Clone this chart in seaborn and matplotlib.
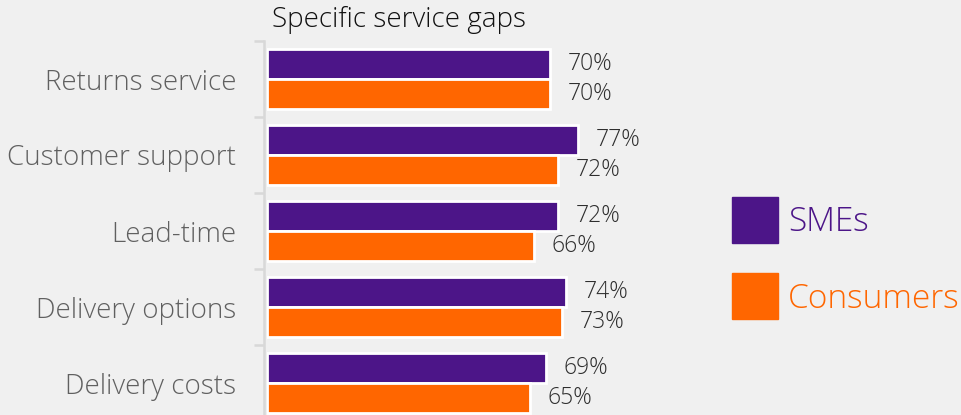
import pandas as pd
import matplotlib
matplotlib.use("Agg")
import matplotlib.pyplot as plt
import seaborn as sns
from matplotlib.lines import Line2D

categories = ["Returns service", "Customer support", "Lead-time", "Delivery options", "Delivery costs"]
smes = [70, 77, 72, 74, 69]
consumers = [70, 72, 66, 73, 65]
series = ["SMEs", "Consumers"]
colors = ["#4C1588", "#FF6600"]

df = pd.DataFrame({
    "category": categories * 2,
    "value": smes + consumers,
    "group": [series[0]] * len(categories) + [series[1]] * len(categories),
})

sns.set_style("white")
plt.rcParams["font.family"] = ["Open Sans", "DejaVu Sans"]
bg = "#F0F0F0"
lw = "light"

fig = plt.figure(figsize=(9.61, 4.15), dpi=100, facecolor=bg)
ax = fig.add_axes([267 / 961, 1 - 421 / 415, 404 / 961, 380 / 415])
ax.set_facecolor(bg)

sns.barplot(data=df, y="category", x="value", hue="group", palette=colors,
            order=categories, hue_order=series, orient="h", width=0.8,
            saturation=1, edgecolor="white", linewidth=2, legend=False, ax=ax)

for cont in ax.containers:
    ax.bar_label(cont, fmt="%d%%", padding=13, fontsize=16.5, color="#2E2E2E", fontweight=lw)

ax.set_xlim(0, 100)
ax.set_ylim(len(categories) - 0.5, -0.5)
ax.set_xlabel("")
ax.set_ylabel("")
ax.set_xticks([])
for s in ["top", "right", "bottom"]:
    ax.spines[s].set_visible(False)
ax.spines["left"].set_color("#D8D8D8")
ax.spines["left"].set_linewidth(1.8)
ax.spines["left"].set_position(("outward", 2))

ax.set_yticks(range(len(categories)))
ax.set_yticklabels(categories, fontsize=20, color="#606060", fontweight=lw)
ax.tick_params(axis="y", which="major", length=0, pad=20)
ax.set_yticks([i - 0.5 for i in range(len(categories) + 1)], minor=True)
ax.tick_params(axis="y", which="minor", left=True, length=7, width=1.8, color="#D8D8D8")

fig.text(272 / 961, 1 - 20 / 415, "Specific service gaps", fontsize=20, color="#111111",
         va="center", ha="left", fontweight=lw)

handles = [Line2D([], [], marker="s", linestyle="", markersize=33,
                  markerfacecolor=c, markeredgecolor=c) for c in colors]
leg = fig.legend(handles, series, loc="center left", bbox_to_anchor=(733 / 961, 1 - 261 / 415),
                 frameon=False, fontsize=24, labelspacing=1.3, handlelength=1.32,
                 handletextpad=0.33, borderaxespad=0, borderpad=0)
for t, c in zip(leg.get_texts(), colors):
    t.set_color(c)
    t.set_fontweight(lw)

fig.savefig("out.png", dpi=100, facecolor=bg)
